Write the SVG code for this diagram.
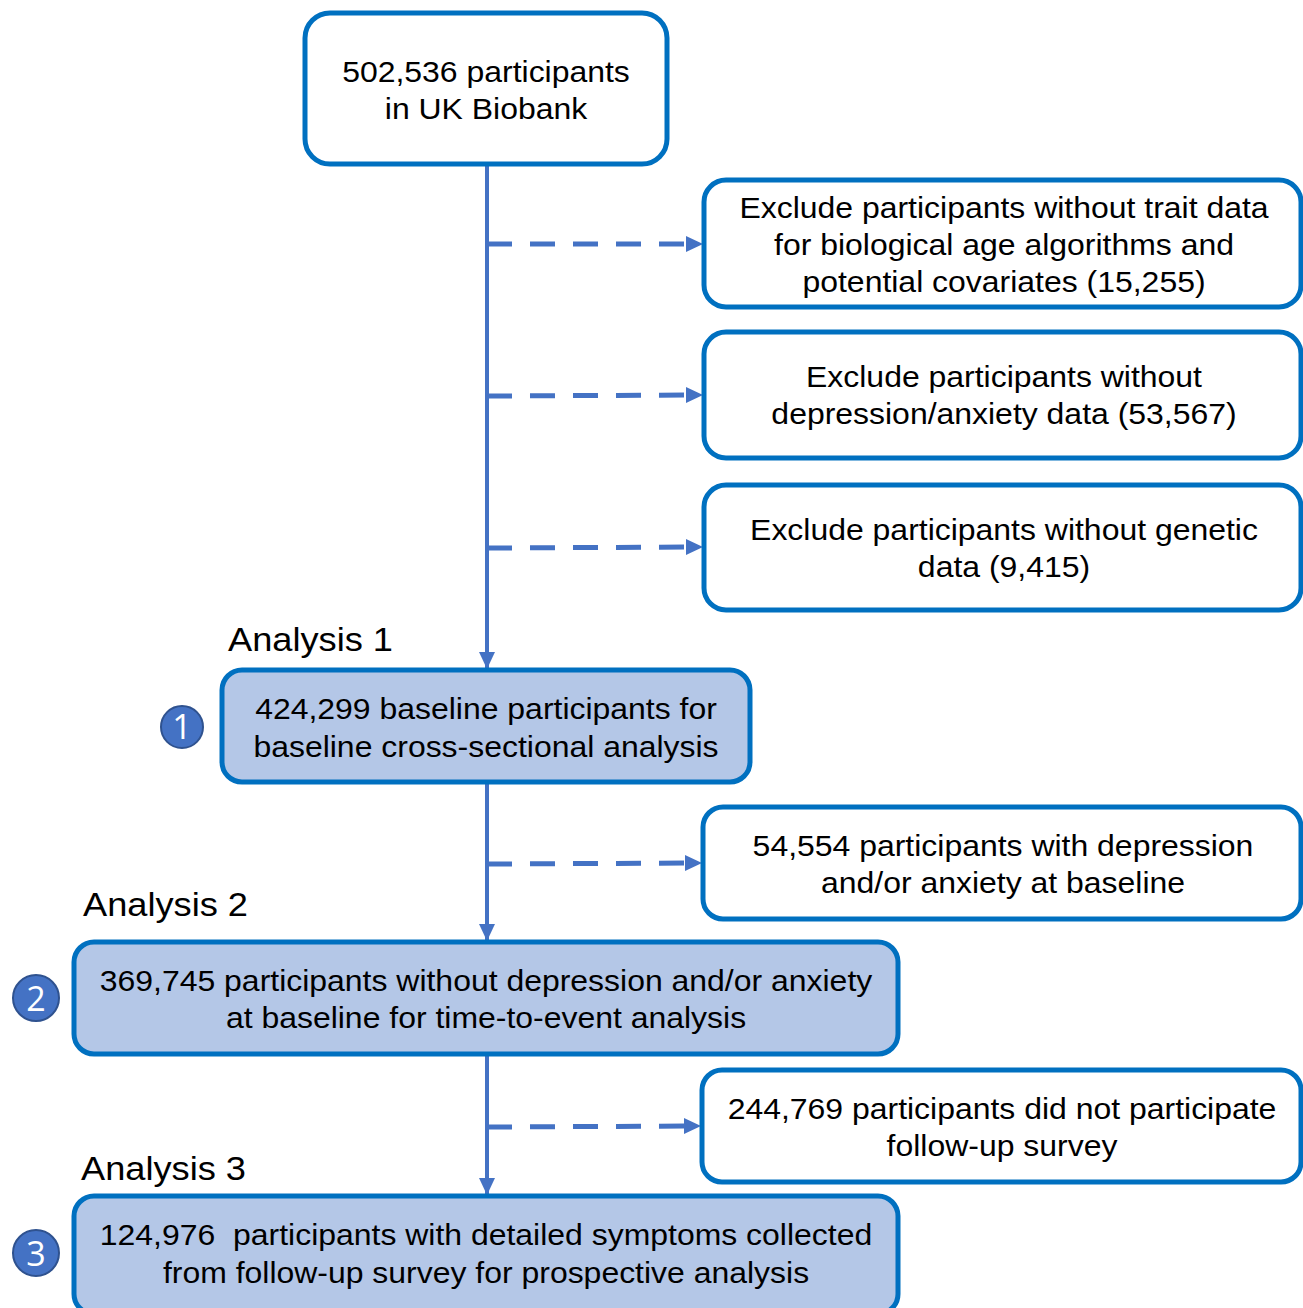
<svg xmlns="http://www.w3.org/2000/svg" width="1303" height="1308" viewBox="0 0 1303 1308">
<defs>
<style>
.box{fill:#fff;stroke:#0070C0;stroke-width:5}
.blue{fill:#B4C7E7;stroke:#0070C0;stroke-width:5}
.t{font-family:"Liberation Sans",Arial,sans-serif;font-size:30px;fill:#000;text-anchor:middle}
.lab{font-family:"Liberation Sans",Arial,sans-serif;font-size:34px;fill:#000}
.line{stroke:#4472C4;stroke-width:4;fill:none}
.dash{stroke:#4472C4;stroke-width:5;fill:none;stroke-dasharray:25 18}
.num{fill:#4472C4;stroke:#2F528F;stroke-width:2}
.nt{font-family:"Open Sans","Liberation Sans",sans-serif;font-size:34px;fill:#fff;text-anchor:middle}
</style>
<marker id="ah2" markerWidth="18" markerHeight="18" refX="16" refY="9" orient="auto" markerUnits="userSpaceOnUse" viewBox="0 0 18 18">
<path d="M0,1 L17,9 L0,17 z" fill="#4472C4"/>
</marker>
</defs>
<g id="connectors">
<line class="line" x1="487" y1="166" x2="487" y2="668" marker-end="url(#ah2)"/>
<line class="line" x1="487" y1="784" x2="487" y2="940" marker-end="url(#ah2)"/>
<line class="line" x1="487" y1="1056" x2="487" y2="1194" marker-end="url(#ah2)"/>
<line class="dash" x1="487" y1="244" x2="702" y2="244" marker-end="url(#ah2)"/>
<line class="dash" x1="487" y1="396" x2="702" y2="395" marker-end="url(#ah2)"/>
<line class="dash" x1="487" y1="548" x2="702" y2="547" marker-end="url(#ah2)"/>
<line class="dash" x1="487" y1="864" x2="701" y2="863" marker-end="url(#ah2)"/>
<line class="dash" x1="487" y1="1127" x2="700" y2="1126" marker-end="url(#ah2)"/>
</g>
<g id="n0">
<rect class="box" x="305" y="13" width="362" height="151" rx="25"/>
<g transform="translate(486,0) scale(1.065,1)">
<text class="t" x="0" y="82">502,536 participants</text>
<text class="t" x="0" y="119">in UK Biobank</text>
</g>
</g>
<g id="e1">
<rect class="box" x="704" y="180" width="597" height="127" rx="22"/>
<g transform="translate(1004,0) scale(1.065,1)">
<text class="t" x="0" y="218">Exclude participants without trait data</text>
<text class="t" x="0" y="255">for biological age algorithms and</text>
<text class="t" x="0" y="292">potential covariates (15,255)</text>
</g>
</g>
<g id="e2">
<rect class="box" x="704" y="332" width="597" height="126" rx="22"/>
<g transform="translate(1004,0) scale(1.065,1)">
<text class="t" x="0" y="387">Exclude participants without</text>
<text class="t" x="0" y="424">depression/anxiety data (53,567)</text>
</g>
</g>
<g id="e3">
<rect class="box" x="704" y="485" width="597" height="125" rx="22"/>
<g transform="translate(1004,0) scale(1.065,1)">
<text class="t" x="0" y="540">Exclude participants without genetic</text>
<text class="t" x="0" y="577">data (9,415)</text>
</g>
</g>
<g id="a1">
<g transform="translate(228,0) scale(1.065,1)"><text class="lab" x="0" y="651">Analysis 1</text></g>
<rect class="blue" x="222" y="670" width="528" height="112" rx="20"/>
<g transform="translate(486,0) scale(1.065,1)">
<text class="t" x="0" y="719">424,299 baseline participants for</text>
<text class="t" x="0" y="757">baseline cross-sectional analysis</text>
</g>
<circle class="num" cx="182" cy="727" r="21"/>
<text class="nt" x="182" y="739">1</text>
</g>
<g id="e4">
<rect class="box" x="703" y="807" width="598" height="112" rx="20"/>
<g transform="translate(1003,0) scale(1.065,1)">
<text class="t" x="0" y="856">54,554 participants with depression</text>
<text class="t" x="0" y="893">and/or anxiety at baseline</text>
</g>
</g>
<g id="a2">
<g transform="translate(83,0) scale(1.065,1)"><text class="lab" x="0" y="916">Analysis 2</text></g>
<rect class="blue" x="74" y="942" width="824" height="112" rx="20"/>
<g transform="translate(486,0) scale(1.065,1)">
<text class="t" x="0" y="991">369,745 participants without depression and/or anxiety</text>
<text class="t" x="0" y="1028">at baseline for time-to-event analysis</text>
</g>
<circle class="num" cx="36" cy="998" r="23"/>
<text class="nt" x="36" y="1011">2</text>
</g>
<g id="e5">
<rect class="box" x="702" y="1070" width="599" height="112" rx="20"/>
<g transform="translate(1002,0) scale(1.065,1)">
<text class="t" x="0" y="1119">244,769 participants did not participate</text>
<text class="t" x="0" y="1156">follow-up survey</text>
</g>
</g>
<g id="a3">
<g transform="translate(81,0) scale(1.065,1)"><text class="lab" x="0" y="1180">Analysis 3</text></g>
<rect class="blue" x="74" y="1196" width="824" height="118" rx="20"/>
<g transform="translate(486,0) scale(1.065,1)">
<text class="t" x="0" y="1245" xml:space="preserve">124,976  participants with detailed symptoms collected</text>
<text class="t" x="0" y="1283">from follow-up survey for prospective analysis</text>
</g>
<circle class="num" cx="36" cy="1253" r="23"/>
<text class="nt" x="36" y="1266">3</text>
</g>
</svg>
